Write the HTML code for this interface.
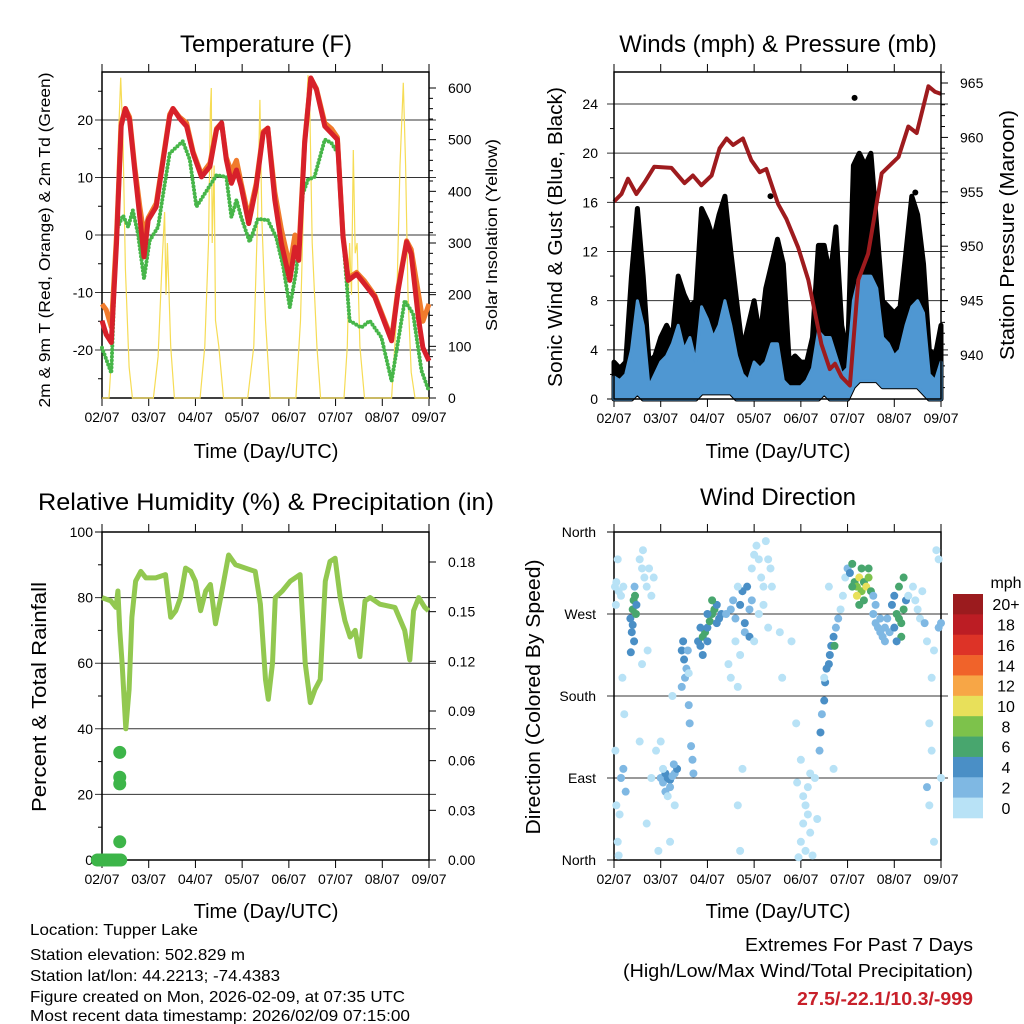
<!DOCTYPE html>
<html><head><meta charset="utf-8">
<style>
html,body{margin:0;padding:0;background:#fff;}
svg{display:block;font-family:"Liberation Sans",Arial,sans-serif;}
</style></head>
<body>
<svg id="chart" width="1024" height="1024" viewBox="0 0 1024 1024" xmlns="http://www.w3.org/2000/svg"></svg>
<script>
// ---------- DATA ----------
const dayLabels = ["02/07","03/07","04/07","05/07","06/07","07/07","08/07","09/07"];
// Temperature (F)
const tempT = [0,.09,.2,.31,.41,.5,.59,.7,.81,.9,.99,1.16,1.31,1.45,1.52,1.66,1.81,1.95,2.13,2.31,2.45,2.56,2.66,2.77,2.88,2.98,3.14,3.3,3.45,3.55,3.7,3.84,4.02,4.13,4.21,4.34,4.47,4.59,4.77,4.91,5.04,5.16,5.27,5.45,5.62,5.84,6.2,6.34,6.52,6.62,6.77,6.87,7];
const tempRed = [-14.9,-17.3,-18.7,-1.5,19,22,20,11.3,3.1,-3.8,2.6,4.9,13.1,20.6,22,20.3,18.9,14.2,10.1,11.9,18.3,19.5,13.1,9,11.3,8.4,2,8.4,17.7,18.6,6.1,-1.5,-7.9,-2.1,-4.4,16,27.3,25.3,18.9,17.7,16.6,-0.4,-7.9,-6.8,-8.5,-10.8,-18.4,-9.6,-1.2,-3.3,-14.3,-19.6,-21.9];
const tempOrange = [-12,-13,-16,0,19.5,22,20.5,12,5,0,3,5.5,13.5,21,22,20.5,19.5,14.5,10.5,12.5,18.5,19.5,13.5,11,13,9,3,9,18,18.6,7.5,1,-5.5,0,-3,16.5,27.3,25.5,19.5,18.5,17,0,-7.5,-6.5,-8,-10.5,-18,-9,-1,-2.5,-10,-15,-12];
const dewT = [0,.2,.31,.45,.56,.66,.77,.9,1.02,1.2,1.31,1.45,1.73,1.88,2.02,2.2,2.45,2.66,2.77,2.88,2.98,3.16,3.34,3.55,3.73,3.88,4.02,4.16,4.3,4.41,4.55,4.77,4.91,5.05,5.2,5.3,5.55,5.73,5.98,6.2,6.48,6.66,6.84,7];
const dewV = [-19.6,-24,0.8,3.4,1.4,4.3,0.2,-7.6,-1,1.4,7.2,14.2,16.3,13.1,4.9,7.2,10.4,10.1,3.1,6.1,3.1,-1.2,2.8,2.6,-0.4,-5.6,-12.6,-6.2,7.2,9.6,10.1,16.6,16,14.2,-4.4,-14.9,-16.1,-14.9,-17.8,-25.4,-11.4,-13.7,-23.6,-27.2];
const solarT = [0,.15,.25,.33,.4,.45,.5,.58,.65,1.1,1.2,1.28,1.34,1.37,1.4,1.47,1.55,2.1,2.2,2.28,2.32,2.34,2.36,2.4,2.43,2.5,2.6,3.12,3.25,3.33,3.38,3.42,3.5,3.6,4.15,4.25,4.35,4.41,4.45,4.5,4.6,4.68,5.18,5.25,5.3,5.34,5.38,5.42,5.46,5.52,5.62,6.2,6.3,6.38,6.45,6.5,6.55,6.62,6.7,7];
const solarV = [0,0,150,450,620,500,250,60,0,0,80,250,360,200,300,100,0,0,100,300,560,600,300,450,150,100,0,0,100,350,577,350,150,0,0,150,500,625,550,300,100,0,0,100,300,200,480,280,300,100,0,0,150,450,610,450,200,50,0,0];
// Winds (mph) & Pressure (mb)
const windT = [0,.125,.25,.375,.5,.625,.75,.875,1,1.125,1.25,1.375,1.5,1.625,1.75,1.875,2,2.125,2.25,2.375,2.5,2.625,2.75,2.875,3,3.125,3.25,3.375,3.5,3.625,3.75,3.875,4,4.125,4.25,4.375,4.5,4.625,4.75,4.875,5,5.125,5.25,5.375,5.5,5.625,5.75,5.875,6,6.125,6.25,6.375,6.5,6.625,6.75,6.875,7];
const windLow = [0,0,0,0,0.5,0,0,0,0,0,0,0,0,0,0,0.5,0.5,0.5,0.5,0.5,0.5,0,0,0,0,0,0,0,0,0,0,0,0,0,0,0,0.5,0,0,0,0,1,1.5,1.5,1.5,1.5,1,1,1,1,1,1,1,0.5,0,0,0];
const windHigh = [1.8,1.5,2,4,8,6,1,2,3,3.5,4.5,6,4,5,3,7.5,6.5,5,6,8,6,3.5,2,1.5,3,2.5,3,4.5,4.5,1.5,1,1,1,1.5,2.5,5.5,5,5,3.5,2,2.5,8,10,10,10,9,5,4.5,3.5,4,6,7.5,8,7,2,1.5,3];
const gustHigh = [3,2.5,3,10,15.5,10,3,3.5,5,6,5,10,8.5,7.5,8,15.5,14.5,13,15,16.5,12,8,4,6,8,5,9,11,13,11,3,3.5,3,3,5,12.5,12.5,10,14,6,3.5,19,20,19,20,14,8,7.5,7,7.5,12,16.5,15,11,4,3.5,6];
const gustOutT = [5.15,6.45,3.35,4.65];
const gustOutV = [24.5,16.8,16.5,11];
const presT = [0,.16,.3,.48,.66,.86,1.23,1.51,1.69,1.87,2.09,2.26,2.41,2.55,2.76,2.94,3.12,3.26,3.51,3.69,3.94,4.16,4.44,4.62,4.73,4.87,5.05,5.23,5.44,5.73,6.09,6.3,6.48,6.73,6.87,7];
const presV = [954.1,954.8,956.2,954.8,955.9,957.3,957.2,955.8,956.5,955.6,956.5,959,959.9,959.3,959.9,957.9,956.8,957.1,953.9,952.5,949.9,946.9,941,938.7,939.2,938,937.2,946.9,949.3,956.7,958.2,961,960.4,964.7,964.2,964];
// Relative humidity & precipitation
const rhT = [0,.19,.30,.34,.38,.43,.51,.58,.64,.72,.83,.94,1.15,1.36,1.47,1.58,1.68,1.79,1.90,2.00,2.11,2.22,2.32,2.43,2.54,2.71,2.86,3.07,3.28,3.39,3.50,3.56,3.65,3.71,3.86,4.03,4.24,4.35,4.46,4.56,4.67,4.78,4.88,4.99,5.10,5.20,5.31,5.42,5.52,5.63,5.74,5.95,6.27,6.48,6.59,6.67,6.78,6.91,6.99];
const rhV = [80,79,77,82,70,60,40,52,74,85,88,86,86,87,74,76,80,89,88,85,76,82,84,72,80,93,90,89,88,78,55,49,60,80,82,85,87,60,48,52,55,85,91,92,80,73,68,70,62,79,80,78,77,70,61,76,80,77,76];
const rainT = [-0.1,-0.05,0,0.05,0.1,0.15,0.2,0.25,0.3,0.35,0.4,0.38,0.38,0.38,0.38];
const rainV = [0,0,0,0,0,0,0,0,0,0,0,0.065,0.05,0.046,0.011];
// Wind direction scatter (time days, direction deg, speed mph)
const dirT = [0.02,0.05,0.1,0.15,0.08,0.04,0.2,0.03,0.05,0.08,0.1,0.15,0.2,0.25,0.22,0.18,0.12,
0.35,0.38,0.4,0.42,0.45,0.47,0.4,0.43,0.36,0.48,0.44,
0.55,0.6,0.65,0.7,0.75,0.8,0.62,0.85,0.6,0.72,0.55,0.9,0.8,0.7,0.95,
1.0,1.05,1.1,1.15,1.2,1.25,1.3,1.35,1.1,1.2,1.05,1.15,1.28,1.3,1.0,1.2,1.25,
1.45,1.5,1.55,1.48,1.52,1.45,1.6,1.62,1.65,1.68,1.7,1.58,1.6,
1.8,1.85,1.9,1.95,2.0,2.05,2.1,2.15,2.2,2.25,2.3,1.9,2.0,2.1,2.2,1.85,2.0,
2.4,2.5,2.55,2.6,2.7,2.75,2.8,2.85,2.9,2.95,2.6,2.45,2.5,2.65,2.8,2.9,2.7,2.65,2.75,2.65,2.7,
2.95,3.0,3.05,3.1,3.15,3.2,3.25,3.3,3.35,3.2,3.3,3.1,3.38,3.0,
3.55,3.8,3.9,3.6,4.0,4.05,4.1,4.15,4.2,4.25,4.05,4.1,4.3,4.0,4.15,4.2,3.92,4.35,3.95,
4.4,4.42,4.45,4.5,4.52,4.55,4.6,4.62,4.65,4.7,4.75,4.72,4.8,4.85,4.9,4.5,4.7,4.6,4.95,
5.0,5.05,5.1,5.15,5.2,5.25,5.3,5.35,5.4,5.45,5.5,5.3,5.2,5.35,5.45,5.1,5.25,
5.55,5.6,5.65,5.7,5.75,5.8,5.85,5.6,5.7,5.55,5.8,5.9,
5.95,6.0,6.05,6.1,6.15,6.2,6.1,6.0,6.15,6.25,6.2,6.05,
6.3,6.4,6.45,6.5,6.55,6.6,6.65,6.7,6.8,6.85,6.75,6.8,6.7,6.75,6.9,6.95,7.0,6.95,7.0,6.85];
const dirD = [300,305,295,290,330,280,300,120,60,20,5,90,100,75,160,200,50,
265,250,275,285,290,270,258,240,228,280,300,
330,320,310,300,320,290,340,310,215,230,130,120,90,40,10,
90,85,95,90,88,92,95,100,75,80,100,70,105,60,130,20,180,
230,220,210,240,200,190,170,150,125,110,95,230,205,
240,235,245,250,255,262,270,275,280,265,270,225,240,285,260,255,270,
270,275,285,265,280,295,260,300,275,285,240,215,200,300,250,245,225,190,100,60,10,
320,335,345,330,310,300,350,330,320,280,255,270,300,240,
250,240,150,200,20,40,60,80,30,5,70,10,90,110,50,95,85,45,3,
120,140,160,175,195,210,215,225,235,245,255,235,265,275,290,200,100,300,310,
320,315,325,305,300,310,295,305,300,310,295,320,290,285,320,300,280,
270,260,255,250,245,255,265,280,265,290,240,250,
280,290,270,265,260,275,300,255,245,285,310,240,
290,300,285,275,265,295,260,240,200,230,150,120,80,60,340,330,90,255,260,20];
const dirS = [1,1,1,1,1,1,1,1,1,1,1,3,3,3,1,1,1,
4,4,6,6,6,7,4,4,4,4,3,
1,1,1,1,1,1,1,1,1,1,1,1,1,1,1,
3,3,4,5,4,3,3,4,3,3,1,1,3,1,1,1,1,
4,4,3,4,3,3,3,3,3,3,3,2,1,
4,5,7,6,5,6,7,6,5,4,5,4,4,6,4,4,4,
3,3,3,3,4,4,4,4,3,3,1,1,1,1,3,4,1,1,1,1,1,
1,1,1,1,1,1,1,1,1,1,1,1,1,1,
1,1,1,1,1,1,1,1,1,1,1,1,1,1,1,1,1,1,1,
3,4,3,4,4,4,4,4,4,4,3,6,3,1,1,1,1,1,1,
3,5,6,7,8,10,8,7,10,8,7,7,10,7,7,7,7,
3,2,2,2,2,2,2,2,2,3,2,3,
4,5,6,6,7,6,6,4,6,5,6,4,
1,1,1,1,1,1,3,1,1,1,1,1,3,1,1,1,1,3,3,1];
const cbLabels = ["20+","18","16","14","12","10","8","6","4","2","0"];
const cbColors = ["#9b1b1e","#bc1d24","#dd3327","#f0632a","#f7a646","#e8e05a","#7dc24b","#48a66e","#4a8fc6","#7fb8e3","#b8e2f6"];
const tempTicks = [20,10,0,-10,-20];
const solarTicks = [0,100,200,300,400,500,600];
const windTicks = [0,4,8,12,16,20,24];
const presTicks = [940,945,950,955,960,965];
const rhTicks = [0,20,40,60,80,100];
const rainTicks = [0,0.03,0.06,0.09,0.12,0.15,0.18];
const dirTicks = [0,90,180,270,360];
const dirTickLabels = ["North","East","South","West","North"];

// ---------- helpers ----------
const NS="http://www.w3.org/2000/svg";
const svg=document.getElementById('chart');
function el(tag,attrs,parent){const e=document.createElementNS(NS,tag);for(const k in attrs)e.setAttribute(k,attrs[k]);(parent||svg).appendChild(e);return e;}
function txt(s,x,y,size,anchor,parent,extra){const t=el('text',Object.assign({x:x,y:y,'font-size':size,'text-anchor':anchor||'middle',fill:'#000'},extra||{}),parent);t.textContent=s;return t;}

const panels={
 p1:{L:102,T:72,R:429,B:398},
 p2:{L:614,T:72,R:941,B:399},
 p3:{L:102,T:532,R:429,B:860},
 p4:{L:614,T:532,R:941,B:860}
};
function xs(p,t){return p.L+t*(p.R-p.L)/7;}
function lin(d0,d1,r0,r1){return v=>r0+(v-d0)*(r1-r0)/(d1-d0);}

const y1=lin(0,20,235,120), ySol=lin(0,600,398,88);
const y2=lin(0,24,399,104), yP=lin(940,965,355,83);
const y3=lin(0,100,860,532), yR=lin(0,0.18,860,562);
const y4=lin(0,360,860,532);

function frame(p,name){
  const g=el('g',{});
  
  
  for(let i=0;i<8;i++){const x=xs(p,i);
    el('line',{x1:x,y1:p.T,x2:x,y2:p.T-8,stroke:'#000','stroke-width':1},g);
    el('line',{x1:x,y1:p.B,x2:x,y2:p.B+8,stroke:'#000','stroke-width':1},g);
    const l=txt(dayLabels[i],x,p.B+24,14,'middle',g);
    
    
  }
  return g;
}
function hgrid(p,y,g,col){el('line',{x1:p.L-7,y1:y,x2:p.R+7,y2:y,stroke:col||'#333','stroke-width':1},g);}
function border(p,g){el('rect',{x:p.L,y:p.T,width:p.R-p.L,height:p.B-p.T,fill:'none',stroke:'#000','stroke-width':1.5},g);}
function poly(pts){return pts.map(q=>q[0].toFixed(1)+','+q[1].toFixed(1)).join(' ');}

// ================= PANEL 1: Temperature =================
(function(){
 const p=panels.p1;const g=frame(p,'temperature');
 tempTicks.forEach(v=>{const y=y1(v);hgrid(p,y,g);const l=txt(String(v),93,y+5,14,'end',g);});
 for(let v=-25;v<=25;v+=10){el('line',{x1:p.L,y1:y1(v),x2:p.L-4,y2:y1(v),stroke:'#000'},g);}
 solarTicks.forEach(v=>{const y=ySol(v);el('line',{x1:p.R,y1:y,x2:p.R+7,y2:y,stroke:'#000'},g);const l=txt(String(v),448,y+5,14,'start',g);});
 for(let v=20;v<600;v+=20){if(v%100)el('line',{x1:p.R,y1:ySol(v),x2:p.R+4,y2:ySol(v),stroke:'#000'},g);}
 const sol=el('polyline',{points:poly(solarT.map((t,i)=>[xs(p,t),ySol(solarV[i])])),fill:'none',stroke:'#f6dc55','stroke-width':1.2});
 
 
 const dew=el('polyline',{points:poly(dewT.map((t,i)=>[xs(p,t),y1(dewV[i])])),fill:'none',stroke:'#47b649','stroke-width':4,'stroke-dasharray':'0 3.6','stroke-linecap':'round','stroke-linejoin':'round'});
 
 
 const org=el('polyline',{points:poly(tempT.map((t,i)=>[xs(p,t),y1(tempOrange[i])])),fill:'none',stroke:'#f07b2c','stroke-width':5,'stroke-linejoin':'round'});
 
 
 const red=el('polyline',{points:poly(tempT.map((t,i)=>[xs(p,t),y1(tempRed[i])])),fill:'none',stroke:'#d7202a','stroke-width':5,'stroke-linejoin':'round'});
 
 
 border(p,g);
 const t=txt('Temperature (F)',266,52,24,'middle');
 const xl=txt('Time (Day/UTC)',266,458,20,'middle');
 const yl=txt('2m & 9m T (Red, Orange) & 2m Td (Green)',0,0,16,'middle',svg,{transform:'translate(50,240) rotate(-90)',textLength:335,lengthAdjust:'spacingAndGlyphs'});
 const yr=txt('Solar Insolation (Yellow)',0,0,16,'middle',svg,{transform:'translate(497,235) rotate(-90)',textLength:192,lengthAdjust:'spacingAndGlyphs'});
})();

// ================= PANEL 2: Winds & Pressure =================
(function(){
 const p=panels.p2;const g=frame(p,'winds');
 windTicks.forEach(v=>{const y=y2(v);if(v>0)hgrid(p,y,g);else el('line',{x1:p.L-7,y1:y,x2:p.L,y2:y,stroke:'#000'},g);const l=txt(String(v),598,y+5,14,'end',g);});
 for(let v=2;v<26;v+=4){el('line',{x1:p.L,y1:y2(v),x2:p.L-4,y2:y2(v),stroke:'#000'},g);}
 presTicks.forEach(v=>{const y=yP(v);el('line',{x1:p.R,y1:y,x2:p.R+7,y2:y,stroke:'#000'},g);const l=txt(String(v),960,y+5,14,'start',g);});
 for(let v=937;v<=966;v++){if(v%5)el('line',{x1:p.R,y1:yP(v),x2:p.R+4,y2:yP(v),stroke:'#000'},g);}
 const up=windT.map((t,i)=>[xs(p,t),y2(gustHigh[i])]);
 const lo=windT.map((t,i)=>[xs(p,t),y2(windLow[i])]).reverse();
 const gust=el('polygon',{points:poly(up.concat(lo)),fill:'#000',stroke:'#000','stroke-width':5,'stroke-linejoin':'round'});
 
 
 gustOutT.forEach((t,i)=>{const c=el('circle',{cx:xs(p,t),cy:y2(gustOutV[i]),r:3,fill:'#000'});});
 const wup=windT.map((t,i)=>[xs(p,t),y2(windHigh[i])]);
 const wlo=windT.map((t,i)=>[xs(p,t),y2(windLow[i])]).reverse();
 const wind=el('polygon',{points:poly(wup.concat(wlo)),fill:'#4f97d2',stroke:'#4f97d2','stroke-width':3,'stroke-linejoin':'round'});
 
 
 const pr=el('polyline',{points:poly(presT.map((t,i)=>[xs(p,t),yP(presV[i])])),fill:'none',stroke:'#9e1b1e','stroke-width':4,'stroke-linejoin':'round'});
 
 const wg=el('g',{});
 border(p,wg);
 const t=txt('Winds (mph) & Pressure (mb)',778,52,24,'middle');
 const xl=txt('Time (Day/UTC)',778,458,20,'middle');
 const yl=txt('Sonic Wind & Gust (Blue, Black)',0,0,20,'middle',svg,{transform:'translate(562,237) rotate(-90)',textLength:300,lengthAdjust:'spacingAndGlyphs'});
 const yr=txt('Station Pressure (Maroon)',0,0,20,'middle',svg,{transform:'translate(1014,235) rotate(-90)',textLength:250,lengthAdjust:'spacingAndGlyphs'});
})();

// ================= PANEL 3: RH & precip =================
(function(){
 const p=panels.p3;const g=frame(p,'humidity');
 rhTicks.forEach(v=>{const y=y3(v);if(v>0&&v<100)hgrid(p,y,g);else el('line',{x1:p.L-7,y1:y,x2:p.L,y2:y,stroke:'#000'},g);const l=txt(String(v),93,y+5,14,'end',g);});
 for(let v=10;v<100;v+=20){el('line',{x1:p.L,y1:y3(v),x2:p.L-4,y2:y3(v),stroke:'#000'},g);}
 rainTicks.forEach(v=>{const y=yR(v);el('line',{x1:p.R,y1:y,x2:p.R+7,y2:y,stroke:'#000'},g);const l=txt(v.toFixed(2),448,y+5,14,'start',g);});
 const rh=el('polyline',{points:poly(rhT.map((t,i)=>[xs(p,t),y3(rhV[i])])),fill:'none',stroke:'#92c850','stroke-width':5,'stroke-linejoin':'round'});
 
 rainT.forEach((t,i)=>{const c=el('circle',{cx:xs(p,t),cy:yR(rainV[i]),r:6.5,fill:'#3db549'});});
 border(p,g);
 const t=txt('Relative Humidity (%) & Precipitation (in)',266,510,24,'middle',svg,{textLength:456,lengthAdjust:'spacingAndGlyphs'});
 const xl=txt('Time (Day/UTC)',266,918,20,'middle');
 const yl=txt('Percent & Total Rainfall',0,0,20,'middle',svg,{transform:'translate(46,697) rotate(-90)',textLength:230,lengthAdjust:'spacingAndGlyphs'});
})();

// ================= PANEL 4: Wind direction =================
(function(){
 const p=panels.p4;const g=frame(p,'wind-direction');
 dirTicks.forEach((v,i)=>{const y=y4(v);if(v>0&&v<360)hgrid(p,y,g);else el('line',{x1:p.L-7,y1:y,x2:p.L,y2:y,stroke:'#000'},g);const l=txt(dirTickLabels[i],596,y+5,14,'end',g);});
 const dg=el('g',{});
 dirT.forEach((t,i)=>{const bin=Math.min(10,Math.floor(dirS[i]/2));
   const c=el('circle',{cx:xs(p,t),cy:y4(dirD[i]),r:4,fill:cbColors[10-bin]},dg);
   });
 border(p,g);
 const t=txt('Wind Direction',778,505,24,'middle');
 const xl=txt('Time (Day/UTC)',778,918,20,'middle');
 const yl=txt('Direction (Colored By Speed)',0,0,20,'middle',svg,{transform:'translate(540,697) rotate(-90)',textLength:275,lengthAdjust:'spacingAndGlyphs'});
 const cb=el('g',{});
 const h=224/11;
 cbLabels.forEach((lab,i)=>{const y=594+i*h;
   const r=el('rect',{x:953,y:y,width:30,height:h+0.3,fill:cbColors[i]},cb);
   const l=txt(lab,1006,y+h/2+6,16,'middle',cb);});
 const m=txt('mph',1006,588,16,'middle',cb);
})();

// ================= footer text =================
const info=["Location: Tupper Lake","Station elevation: 502.829 m","Station lat/lon: 44.2213; -74.4383","Figure created on Mon, 2026-02-09, at 07:35 UTC","Most recent data timestamp: 2026/02/09 07:15:00"];
const infoY=[935,960,981,1002,1021];
const infoW=[168,215,250,375,380];
info.forEach((s,i)=>{const t=txt(s,30,infoY[i],16,'start',svg,{textLength:infoW[i],lengthAdjust:'spacingAndGlyphs'});});
const e1=txt('Extremes For Past 7 Days',973,951,18,'end',svg,{textLength:228,lengthAdjust:'spacingAndGlyphs'});
const e2=txt('(High/Low/Max Wind/Total Precipitation)',973,977,18,'end',svg,{textLength:350,lengthAdjust:'spacingAndGlyphs'});
const e3=txt('27.5/-22.1/10.3/-999',973,1005,18,'end',svg,{fill:'#c8202a','font-weight':'bold',textLength:176,lengthAdjust:'spacingAndGlyphs'});
</script>
</body></html>
